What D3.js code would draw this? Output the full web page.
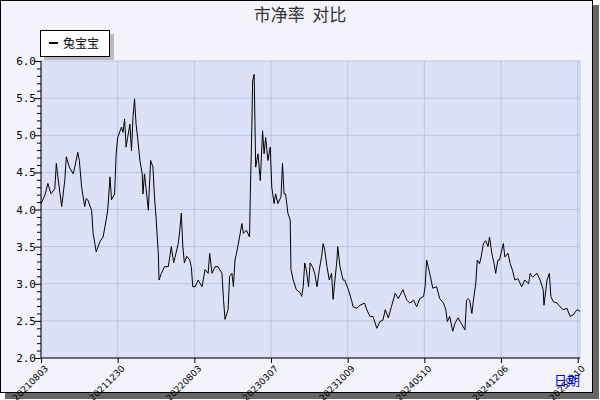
<!DOCTYPE html>
<html><head><meta charset="utf-8">
<script src="https://cdn.jsdelivr.net/npm/d3@7"></script>
<style>body{margin:0;background:#fff}</style></head>
<body><svg id="c" width="600" height="400"></svg>
<script>
const seriesName = "兔宝宝";
const dayIdx = [0,5,9,13,18,20,22,27,31,33,37,42,44,48,50,53,57,59,61,66,68,72,77,81,85,87,90,92,96,98,100,105,107,109,111,113,116,118,120,122,124,126,129,132,133,135,140,143,146,148,150,153,154,157,161,166,170,173,176,179,181,183,185,187,190,194,196,198,201,205,210,214,218,220,223,227,231,236,238,240,244,246,249,251,253,255,259,262,264,268,272,273,275,276,278,279,280,283,286,289,291,293,296,299,301,304,306,309,313,315,317,319,322,325,326,329,333,338,340,342,344,346,349,351,354,357,360,363,366,368,370,373,376,379,381,383,386,387,390,394,396,401,405,407,412,416,422,425,429,433,438,442,446,449,453,457,462,466,472,477,481,486,490,494,499,501,503,505,507,511,516,520,525,528,530,533,537,540,544,549,553,555,557,559,562,564,567,569,572,574,577,580,583,585,588,591,593,596,598,603,605,609,612,615,618,622,627,631,636,638,641,647,651,655,656,660,663,665,668,673,677,681,686,690,694,699,703];
const values = [4.08,4.19,4.35,4.21,4.28,4.62,4.44,4.04,4.39,4.71,4.57,4.48,4.57,4.77,4.66,4.30,4.04,4.15,4.13,3.99,3.68,3.43,3.57,3.63,3.86,3.99,4.44,4.13,4.21,4.75,4.97,5.11,5.04,5.22,4.84,4.97,5.15,4.79,5.24,5.49,5.15,4.97,4.66,4.48,4.21,4.48,3.99,4.66,4.57,4.17,3.90,3.41,3.05,3.14,3.23,3.23,3.50,3.28,3.41,3.54,3.72,3.95,3.50,3.28,3.37,3.32,3.23,2.96,2.96,3.05,2.96,3.19,3.14,3.41,3.14,3.23,3.23,3.14,2.79,2.52,2.65,3.10,3.14,2.96,3.32,3.41,3.63,3.81,3.68,3.72,3.63,4.21,5.11,5.73,5.82,5.20,4.57,4.75,4.39,5.06,4.75,4.97,4.66,4.84,4.30,4.08,4.21,4.08,4.17,4.62,4.21,4.21,3.95,3.86,3.19,3.05,2.92,2.88,2.83,2.96,3.28,3.19,2.96,3.28,3.23,3.14,2.96,3.19,3.37,3.54,3.46,3.23,3.05,3.14,2.79,3.01,3.32,3.50,3.23,3.05,3.05,2.92,2.78,2.69,2.67,2.71,2.74,2.65,2.56,2.56,2.40,2.49,2.51,2.65,2.54,2.69,2.87,2.80,2.92,2.78,2.74,2.78,2.69,2.80,2.83,2.96,3.32,3.23,3.14,2.94,2.96,2.80,2.74,2.65,2.49,2.56,2.36,2.47,2.54,2.45,2.38,2.78,2.80,2.78,2.60,2.78,3.00,3.32,3.27,3.36,3.54,3.58,3.50,3.63,3.41,3.27,3.14,3.32,3.32,3.54,3.36,3.41,3.27,3.18,3.05,3.07,2.96,3.05,3.00,3.14,3.09,3.14,3.05,2.92,2.71,3.05,3.14,2.83,2.76,2.74,2.69,2.65,2.67,2.56,2.58,2.65,2.63];
const tickIdx = [0,100,200,300,400,500,600,700];
const tickLabels = ["20210803","20211230","20220803","20230307","20231009","20240510","20241206","20250110"];
const yTicks = [2.0,2.5,3.0,3.5,4.0,4.5,5.0,5.5,6.0];

const svg = d3.select("#c");
svg.append("rect").attr("x",5).attr("y",5).attr("width",594).attr("height",394).attr("fill","#666");
svg.append("rect").attr("x",0.5).attr("y",0.5).attr("width",592).attr("height",392).attr("fill","#f2f3fb").attr("stroke","#000");

const L=41,R=580,T=61,B=358;
const x = d3.scaleLinear().domain([0,703]).range([L,R]);
const y = d3.scaleLinear().domain([2,6]).range([B,T]);
svg.append("rect").attr("x",L).attr("y",T).attr("width",R-L).attr("height",B-T).attr("fill","#dce1f7");
svg.append("g").selectAll("line").data(yTicks).join("line")
 .attr("x1",L).attr("x2",R).attr("y1",d=>y(d)).attr("y2",d=>y(d)).attr("stroke","#b9c4e6");
svg.append("g").selectAll("line").data(tickIdx).join("line")
 .attr("y1",T).attr("y2",B).attr("x1",d=>x(d)).attr("x2",d=>x(d)).attr("stroke","#b9c4e6");
svg.append("line").attr("x1",R).attr("x2",R).attr("y1",T).attr("y2",B).attr("stroke","#b9c4e6");
svg.append("path").datum(dayIdx.map((d,i)=>[d,values[i]]))
 .attr("d",d3.line().x(d=>x(d[0])).y(d=>y(d[1])))
 .attr("fill","none").attr("stroke","#000").attr("stroke-width",1);
const ya = svg.append("g").attr("transform",`translate(${L},0)`)
 .call(d3.axisLeft(y).tickValues(d3.range(20,61).map(v=>v/10)).tickSize(4).tickFormat(d=>yTicks.some(t=>Math.abs(t-d)<1e-6)?d3.format(".1f")(d):""));
ya.selectAll(".tick line").attr("x2",d=>yTicks.some(t=>Math.abs(t-d)<1e-6)?-6:-4);
ya.selectAll("text").attr("font-family","DejaVu Sans Mono").attr("font-size",11).attr("fill","#000").attr("x",-5);
ya.select(".domain").attr("d",`M0,${T}V${B}`);
const xa = svg.append("g").attr("transform",`translate(0,${B})`)
 .call(d3.axisBottom(x).tickValues(tickIdx).tickSize(5).tickFormat((d,i)=>tickLabels[i]));
xa.select(".domain").attr("d",`M${L},0H${R}`);
xa.selectAll("text").attr("font-family","DejaVu Sans").attr("font-size",9).attr("fill","#000")
 .attr("text-anchor","end").attr("transform","translate(5,9) rotate(-45)").attr("dy","0.35em").attr("y",0).attr("x",0);
svg.append("text").attr("x",300).attr("y",21).attr("text-anchor","middle").attr("font-family","Noto Sans CJK SC")
 .attr("font-size",17).attr("fill","#333").style("white-space","pre").text("市净率  对比");
svg.append("rect").attr("x",44).attr("y",34).attr("width",70).attr("height",26).attr("fill","#bbb");
svg.append("rect").attr("x",40.5).attr("y",30.5).attr("width",69).attr("height",26).attr("fill","#fff").attr("stroke","#000");
svg.append("line").attr("x1",49).attr("x2",58).attr("y1",43).attr("y2",43).attr("stroke","#000").attr("stroke-width",2);
svg.append("text").attr("x",63).attr("y",48).attr("font-family","Noto Sans CJK SC").attr("font-size",12).text(seriesName);
svg.append("text").attr("x",580).attr("y",385).attr("text-anchor","end").attr("font-family","Noto Sans CJK SC")
 .attr("font-size",13).attr("fill","#0000ee").text("日期");
</script></body></html>
